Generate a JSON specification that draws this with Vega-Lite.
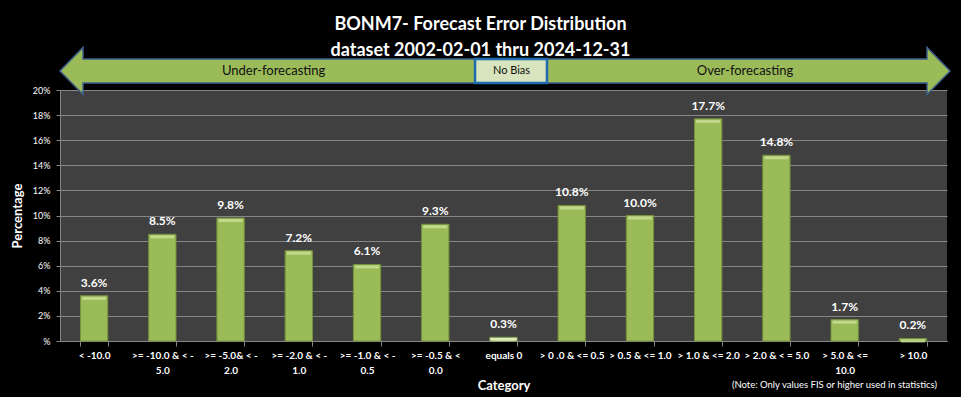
{
  "$schema": "https://vega.github.io/schema/vega-lite/v6.json",
  "width": 887,
  "height": 251,
  "autosize": {"type": "none"},
  "padding": {"left": 60, "top": 90, "right": 14, "bottom": 56},
  "background": "#000000",
  "config": {"font": "Lato", "view": {"fill": "#404040", "stroke": null}},
  "title": {
    "text": ["BONM7- Forecast Error Distribution", "dataset 2002-02-01  thru 2024-12-31"],
    "color": "#ffffff",
    "fontSize": 18,
    "fontWeight": "bold",
    "lineHeight": 26,
    "anchor": "middle",
    "frame": "group",
    "dx": -23,
    "dy": 20,
    "offset": 4
  },
  "data": {
    "values": [
      {"category": "< -10.0", "pct": 0.036},
      {"category": ">= -10.0 & < -\n5.0", "pct": 0.085},
      {"category": ">= -5.0& < -\n2.0", "pct": 0.098},
      {"category": ">= -2.0 & < -\n1.0", "pct": 0.072},
      {"category": ">= -1.0 & < -\n0.5", "pct": 0.061},
      {"category": ">= -0.5 & <\n0.0", "pct": 0.093},
      {"category": "equals 0", "pct": 0.003},
      {"category": "> 0 .0 & <= 0.5", "pct": 0.108},
      {"category": "> 0.5 & <= 1.0", "pct": 0.100},
      {"category": "> 1.0 & <= 2.0", "pct": 0.177},
      {"category": "> 2.0 & < = 5.0", "pct": 0.148},
      {"category": "> 5.0 & <=\n10.0", "pct": 0.017},
      {"category": "> 10.0", "pct": 0.002}
    ]
  },
  "layer": [
    {
      "encoding": {
        "x": {
          "field": "category",
          "type": "nominal",
          "sort": null,
          "scale": {"paddingInner": 0.6, "paddingOuter": 0.3},
          "axis": {
            "title": "Category",
            "titleColor": "#ffffff",
            "titleFontSize": 13,
            "titleFontWeight": "bold",
            "titlePadding": 4,
            "labelAngle": 0,
            "labelExpr": "split(datum.label, '\\n')",
            "labelColor": "#ffffff",
            "labelFontSize": 10,
            "labelFontWeight": "bold",
            "labelLineHeight": 15,
            "labelPadding": 4,
            "labelOverlap": false,
            "labelLimit": 0,
            "tickBand": "extent",
            "tickSize": 5,
            "tickColor": "#868686",
            "domainColor": "#868686",
            "grid": false
          }
        },
        "y": {
          "field": "pct",
          "type": "quantitative",
          "scale": {"domain": [0, 0.2], "nice": false},
          "axis": {
            "values": [0, 0.02, 0.04, 0.06, 0.08, 0.1, 0.12, 0.14, 0.16, 0.18, 0.2],
            "labelExpr": "datum.value == 0 ? '%' : format(datum.value, '.0%')",
            "grid": true,
            "gridColor": "#868686",
            "domainColor": "#868686",
            "tickColor": "#868686",
            "tickSize": 4,
            "labelPadding": 6,
            "labelColor": "#ffffff",
            "labelFontSize": 9,
            "title": "Percentage",
            "titleColor": "#ffffff",
            "titleFontSize": 13,
            "titleFontWeight": "bold",
            "titlePadding": 8
          }
        }
      },
      "layer": [
        {
          "mark": {"type": "bar", "stroke": "#76923C", "strokeWidth": 1},
          "encoding": {
            "color": {
              "condition": {"test": "datum.category == 'equals 0'", "value": "#EEF3E2"},
              "value": "#9BBB59"
            }
          }
        },
        {
          "mark": {"type": "tick", "orient": "horizontal", "thickness": 3, "size": 24, "yOffset": 2.5, "color": "#D3E6A3"},
          "encoding": {}
        },
        {
          "mark": {"type": "text", "dy": -9, "baseline": "alphabetic", "fontWeight": "bold", "fontSize": 12, "color": "#ffffff"},
          "encoding": {"text": {"field": "pct", "format": ".1%"}}
        }
      ]
    },
    {
      "data": {"values": [{}]},
      "layer": [
        {
          "mark": {
            "type": "point",
            "shape": "M -1 0 L -0.9483 -0.0528 L -0.9483 -0.027 L 0.9483 -0.027 L 0.9483 -0.0528 L 1 0 L 0.9483 0.0528 L 0.9483 0.027 L -0.9483 0.027 L -0.9483 0.0528 Z",
            "size": 792100,
            "filled": true,
            "fill": "#9BBB59",
            "stroke": "#3F5F8A",
            "strokeWidth": 1.5,
            "opacity": 1
          },
          "encoding": {
            "x": {"datum": 50.17, "type": "quantitative", "scale": {"domain": [0, 100], "nice": false}, "axis": null},
            "y": {"datum": 107.6, "type": "quantitative", "scale": {"domain": [0, 100], "nice": false}, "axis": null}
          }
        },
        {
          "mark": {"type": "rect", "fill": "#D7E4BD", "stroke": "#1F6AB0", "strokeWidth": 2.5},
          "encoding": {
            "x": {"datum": 46.79, "type": "quantitative"},
            "x2": {"datum": 54.9},
            "y": {"datum": 102.79, "type": "quantitative"},
            "y2": {"datum": 112.35}
          }
        },
        {
          "mark": {"type": "text", "baseline": "middle", "align": "center", "fontSize": 13, "color": "#111111"},
          "encoding": {
            "x": {"datum": 24.08, "type": "quantitative"},
            "y": {"datum": 107.4, "type": "quantitative"},
            "text": {"value": "Under-forecasting"}
          }
        },
        {
          "mark": {"type": "text", "baseline": "middle", "align": "center", "fontSize": 13, "color": "#111111"},
          "encoding": {
            "x": {"datum": 77.23, "type": "quantitative"},
            "y": {"datum": 107.4, "type": "quantitative"},
            "text": {"value": "Over-forecasting"}
          }
        },
        {
          "mark": {"type": "text", "baseline": "middle", "align": "center", "fontSize": 11, "color": "#111111"},
          "encoding": {
            "x": {"datum": 50.9, "type": "quantitative"},
            "y": {"datum": 107.4, "type": "quantitative"},
            "text": {"value": "No  Bias"}
          }
        },
        {
          "mark": {"type": "text", "baseline": "alphabetic", "align": "right", "fontSize": 9.5, "color": "#ffffff"},
          "encoding": {
            "x": {"datum": 98.87, "type": "quantitative"},
            "y": {"datum": -18.7, "type": "quantitative"},
            "text": {"value": "(Note: Only values FIS or higher used in statistics)"}
          }
        }
      ]
    }
  ],
  "resolve": {"scale": {"x": "independent", "y": "independent"}}
}
